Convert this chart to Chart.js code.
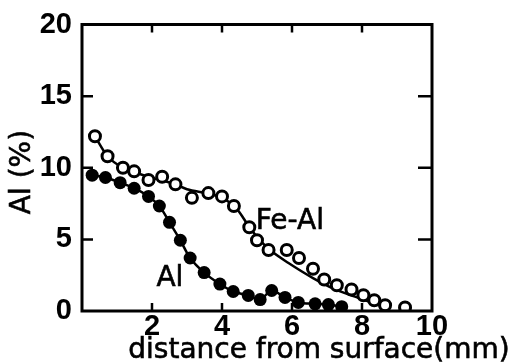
<!DOCTYPE html>
<html>
<head>
<meta charset="utf-8">
<script src="https://cdn.jsdelivr.net/npm/chart.js@4"></script>
<style>
html,body{margin:0;padding:0;background:#fff;}
canvas{display:block;}
</style>
</head>
<body>
<canvas id="c" width="515" height="362"></canvas>
<script>
// ---- data ----
const feAlX = [0.37,0.73,1.17,1.49,1.9,2.29,2.67,3.14,3.61,4.0,4.34,4.78,5.0,5.33,5.85,6.2,6.6,6.92,7.28,7.7,8.04,8.35,8.66,9.23];
const feAlY = [12.2,10.8,10.0,9.75,9.14,9.37,8.84,7.9,8.23,8.0,7.33,5.85,4.94,4.26,4.26,3.7,2.95,2.2,1.8,1.5,1.1,0.75,0.4,0.25];
const feAlCurveX = [0.37,0.73,1.17,1.6,2.0,2.6,3.0,3.6,4.0,4.4,4.8,5.1,5.4,5.9,6.6,7.2,7.8,8.6];
const feAlCurveY = [12.2,10.8,10.0,9.6,9.3,8.9,8.5,8.2,7.9,7.2,5.8,4.9,4.2,3.35,2.3,1.55,1.0,0.3];
const alX = [0.29,0.67,1.09,1.49,1.9,2.21,2.5,2.81,3.09,3.49,3.94,4.32,4.75,5.09,5.42,5.8,6.18,6.66,7.04,7.42];
const alY = [9.48,9.32,8.96,8.57,8.0,7.33,6.19,4.94,3.7,2.68,1.88,1.36,1.09,0.8,1.43,0.95,0.6,0.5,0.45,0.3];
const xTickLabels = [2,4,6,8,10];
const yTickLabels = [0,5,10,15,20];
const xTitle = 'distance from surface(mm)';
const yTitle = 'Al (%)';
const seriesNames = ['Fe-Al','Al'];

const pts = (xs, ys) => xs.map((x,i)=>({x:x, y:ys[i]}));

const framePlugin = {
  id:'frame',
  afterDraw(chart){
    const ctx = chart.ctx;
    const {left,right,top,bottom} = chart.chartArea;
    const xs = chart.scales.x, ys = chart.scales.y;
    ctx.save();
    ctx.strokeStyle = '#000';
    ctx.lineWidth = 3;
    ctx.strokeRect(left, top, right-left, bottom-top);
    ctx.lineWidth = 2.5;
    ctx.beginPath();
    xTickLabels.filter(v=>v<10).forEach(v=>{
      const p = xs.getPixelForValue(v);
      ctx.moveTo(p, bottom); ctx.lineTo(p, bottom-8);
      ctx.moveTo(p, top); ctx.lineTo(p, top+8);
    });
    yTickLabels.filter(v=>v>0 && v<20).forEach(v=>{
      const p = ys.getPixelForValue(v);
      ctx.moveTo(left, p); ctx.lineTo(left+11, p);
      ctx.moveTo(right, p); ctx.lineTo(right-14, p);
    });
    ctx.stroke();
    // axis titles
    ctx.fillStyle = '#000';
    ctx.strokeStyle = '#000';
    ctx.lineWidth = 0.6;
    ctx.font = '28px "DejaVu Sans"';
    ctx.textAlign = 'center';
    ctx.textBaseline = 'alphabetic';
    ctx.fillText(xTitle, 319, 358);
    ctx.strokeText(xTitle, 319, 358);
    ctx.save();
    ctx.translate(30, 172);
    ctx.rotate(-Math.PI/2);
    ctx.fillText(yTitle, 0, 0);
    ctx.strokeText(yTitle, 0, 0);
    ctx.restore();
    // series labels
    ctx.textBaseline = 'middle';
    const p1 = [xs.getPixelForValue(5.94), ys.getPixelForValue(6.26)];
    const p2 = [xs.getPixelForValue(2.51), ys.getPixelForValue(2.24)];
    ctx.fillText(seriesNames[0], p1[0], p1[1]);
    ctx.strokeText(seriesNames[0], p1[0], p1[1]);
    ctx.fillText(seriesNames[1], p2[0], p2[1]);
    ctx.strokeText(seriesNames[1], p2[0], p2[1]);
    ctx.restore();
  }
};

new Chart(document.getElementById('c'), {
  type:'scatter',
  data:{
    datasets:[
      {label:'Fe-Al points', data:pts(feAlX,feAlY), showLine:false, pointRadius:5.5, pointBorderWidth:3,
       pointBackgroundColor:'#fff', pointBorderColor:'#000', order:1},
      {label:'Al', data:pts(alX,alY), showLine:true, borderColor:'#000', borderWidth:2.5, tension:0.3,
       pointRadius:6.5, pointBackgroundColor:'#000', pointBorderColor:'#000', pointBorderWidth:0, order:1},
      {label:'Fe-Al curve', data:pts(feAlCurveX,feAlCurveY), showLine:true, borderColor:'#000', borderWidth:2.5,
       cubicInterpolationMode:'monotone', pointRadius:0, order:2}
    ]
  },
  options:{
    responsive:false,
    animation:false,
    devicePixelRatio:1,
    layout:{padding:{left:0, top:18, right:83, bottom:0}},
    plugins:{legend:{display:false}, tooltip:{enabled:false}},
    scales:{
      x:{type:'linear', min:0, max:10,
         grid:{display:false, drawTicks:false}, border:{display:false},
         ticks:{stepSize:2, padding:1, color:'#000', maxRotation:0,
                font:{family:'Liberation Sans', size:29, weight:'bold', lineHeight:1},
                callback:(v)=> xTickLabels.includes(v) ? String(v) : ''},
         afterFit:(s)=>{ s.height = 51; }
      },
      y:{type:'linear', min:0, max:20,
         grid:{display:false, drawTicks:false}, border:{display:false},
         ticks:{stepSize:5, padding:10, color:'#000',
                font:{family:'Liberation Sans', size:29, weight:'bold', lineHeight:1},
                callback:(v)=> yTickLabels.includes(v) ? String(v) : ''},
         afterFit:(s)=>{ s.width = 82; }
      }
    }
  },
  plugins:[framePlugin]
});
</script>
</body>
</html>
